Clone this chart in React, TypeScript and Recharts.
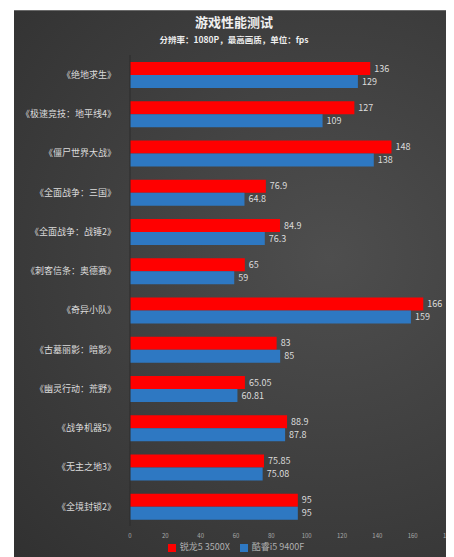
import React from "react";
import { Bar, BarChart, LabelList, Legend, XAxis, YAxis } from "recharts";

const games = [
  "《绝地求生》",
  "《极速竞技：地平线4》",
  "《僵尸世界大战》",
  "《全面战争：三国》",
  "《全面战争：战锤2》",
  "《刺客信条：奥德赛》",
  "《奇异小队》",
  "《古墓丽影：暗影》",
  "《幽灵行动：荒野》",
  "《战争机器5》",
  "《无主之地3》",
  "《全境封锁2》",
];
const ryzen = [136, 127, 148, 76.9, 84.9, 65, 166, 83, 65.05, 88.9, 75.85, 95];
const intel = [129, 109, 138, 64.8, 76.3, 59, 159, 85, 60.81, 87.8, 75.08, 95];
const xTicks = [0, 20, 40, 60, 80, 100, 120, 140, 160, 180];
const seriesOrder = ["锐龙5 3500X", "酷睿i5 9400F"];

const RED = "#ff0000";
const BLUE = "#2e78c2";
const TEXT = "#dcdcdc";
const FONT = '"Noto Sans CJK SC", "Noto Sans", sans-serif';

const data = games.map((name, i) => ({ name, ryzen: ryzen[i], intel: intel[i] }));

export default function App() {
  return (
    <div
      style={{
        marginLeft: 6,
        marginTop: 2,
        width: 440,
        height: 547,
        position: "relative",
        borderTop: "1px solid #6a6a6a",
        boxSizing: "border-box",
        background:
          "radial-gradient(ellipse at 72% 45%, #4e4e4e 0%, #3e3e3e 55%, #313131 100%)",
        fontFamily: FONT,
      }}
    >
      <div
        style={{
          position: "absolute",
          top: 1,
          width: "100%",
          textAlign: "center",
          color: "#f0f0f0",
          fontWeight: 700,
          fontSize: 13,
        }}
      >
        游戏性能测试
      </div>
      <div
        style={{
          position: "absolute",
          top: 22,
          width: "100%",
          textAlign: "center",
          color: "#eeeeee",
          fontWeight: 700,
          fontSize: 8.5,
        }}
      >
        分辨率：1080P，最高画质，单位：fps
      </div>
      <BarChart
        width={440}
        height={546}
        data={data}
        layout="vertical"
        barSize={13}
        barGap={0}
        margin={{ top: 44, right: 6, left: 0, bottom: 4 }}
      >
        <XAxis
          type="number"
          domain={[0, 180]}
          ticks={xTicks}
          axisLine={false}
          tickLine={false}
          height={14}
          tick={{ fill: "#a8a8a8", fontSize: 6, fontFamily: FONT }}
          interval={0}
        />
        <YAxis
          type="category"
          dataKey="name"
          width={116}
          axisLine={{ stroke: "#2c2c2c" }}
          tickLine={false}
          tickSize={12}
          tick={{ fill: TEXT, fontSize: 9, fontFamily: FONT }}
          interval={0}
        />
        <Legend
          verticalAlign="bottom"
          iconType="square"
          iconSize={8}
          itemSorter={(item: any) => seriesOrder.indexOf(item.value)}
          wrapperStyle={{ fontSize: 9, fontFamily: FONT, paddingLeft: 10 }}
          formatter={(v) => <span style={{ color: "#b0b0b0" }}>{v}</span>}
        />
        <Bar dataKey="ryzen" name={seriesOrder[0]} fill={RED} isAnimationActive={false}>
          <LabelList dataKey="ryzen" position="right" offset={4} fill={TEXT} fontSize={9} />
        </Bar>
        <Bar dataKey="intel" name={seriesOrder[1]} fill={BLUE} isAnimationActive={false}>
          <LabelList dataKey="intel" position="right" offset={4} fill={TEXT} fontSize={9} />
        </Bar>
      </BarChart>
    </div>
  );
}
